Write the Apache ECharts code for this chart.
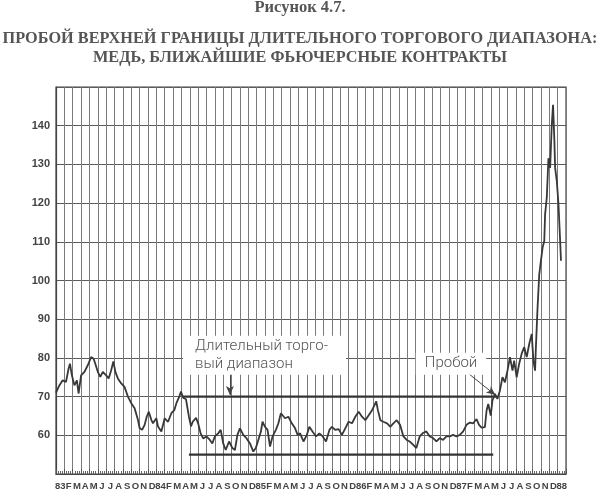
<!DOCTYPE html>
<html>
<head>
<meta charset="utf-8">
<script src="https://cdn.jsdelivr.net/npm/echarts@6/dist/echarts.min.js"></script>
<style>
html,body{margin:0;padding:0;background:#fff;}
#chart{width:600px;height:491px;}
</style>
</head>
<body>
<div id="chart"></div>
<script>
// Tick labels (months Jan 1983 .. Jan 1988)
const monthLabels = ['83','F','M','A','M','J','J','A','S','O','N','D',
  '84','F','M','A','M','J','J','A','S','O','N','D',
  '85','F','M','A','M','J','J','A','S','O','N','D',
  '86','F','M','A','M','J','J','A','S','O','N','D',
  '87','F','M','A','M','J','J','A','S','O','N','D','88'];

// Price series: time in months since Jan 1983, copper nearby futures (cents/lb)
const priceT = [0.0,0.4,0.8,1.2,1.5,1.67,1.9,2.2,2.5,2.7,3.0,3.4,3.8,4.2,4.5,4.7,5.0,5.3,5.6,6.0,6.3,6.6,6.86,7.1,7.4,7.8,8.2,8.6,9.0,9.4,9.8,10.0,10.3,10.6,10.85,11.1,11.4,11.6,12.0,12.2,12.6,13.0,13.4,13.8,14.15,14.4,14.75,14.95,15.2,15.55,15.9,
  16.15,16.35,16.75,17.0,17.3,17.6,18.0,18.4,18.7,19.0,19.4,19.7,20.0,20.3,20.7,21.1,21.4,21.7,22.0,22.4,22.8,23.2,23.6,23.9,24.2,24.5,24.7,25.0,25.3,25.6,25.9,26.3,26.6,26.9,27.1,27.4,27.8,28.2,28.6,28.9,29.2,29.6,30.0,30.3,30.7,31.1,31.5,31.9,32.3,32.7,33.0,33.4,33.8,
  34.2,34.6,35.0,35.4,35.8,36.2,36.6,37.0,37.4,37.8,38.1,38.3,38.5,38.8,39.15,39.6,40.0,40.35,40.75,41.15,41.55,41.95,42.3,42.7,43.1,43.5,43.9,44.3,44.7,45.1,45.5,45.9,46.3,46.7,47.1,47.5,47.9,48.3,48.7,49.1,49.5,49.9,50.3,50.6,50.9,51.3,
  51.5,51.7,52.0,52.2,52.5,52.8,53.1,53.4,53.7,54.0,54.3,54.6,54.8,55.1,55.4,55.7,56.0,56.3,56.6,56.9,57.1,57.3,57.4,57.6,57.8,58.0,58.2,58.4,58.5,58.7,58.9,59.1,59.3,59.45,59.6,59.7,59.9,60.1,60.3,60.4];
const priceV = [71.0,72.9,74.2,73.8,77.2,78.5,75.5,72.9,74.2,70.8,75.5,76.4,78.1,80.2,79.8,78.5,76.4,75.1,76.4,75.5,74.7,76.8,79.1,76.4,74.7,73.4,72.5,70.0,68.3,67.0,64.0,61.9,61.4,62.7,64.8,66.1,64.0,63.1,64.4,62.3,61.0,64.4,63.5,65.7,66.5,68.3,70.0,71.3,69.7,69.3,64.8,
  62.3,63.5,64.5,63.1,60.5,59.2,59.7,58.8,57.9,59.7,60.5,61.4,57.9,56.2,58.4,56.7,56.2,60.1,61.8,60.1,59.2,57.9,55.8,56.7,58.8,60.9,63.5,62.2,61.4,57.1,59.7,61.4,63.1,65.7,66.1,64.4,64.8,63.1,61.8,60.1,60.5,58.4,60.1,62.2,60.9,59.7,60.5,59.7,58.4,61.4,62.2,61.4,61.6,
  60.1,61.8,63.5,63.1,64.8,66.1,64.8,63.9,65.2,66.5,67.8,68.8,66.5,63.9,63.5,63.1,62.2,63.1,63.9,62.7,59.7,58.8,58.4,57.6,56.7,59.7,60.6,61.0,59.7,59.3,58.4,59.3,58.8,59.7,59.7,60.1,59.7,60.1,61.0,62.7,63.3,63.1,64.2,62.7,62.0,62.1,
  66.4,68.1,65.1,69.0,70.7,69.4,71.6,75.0,73.7,76.7,80.2,76.7,79.3,75.0,78.5,81.1,82.8,80.2,83.6,86.2,79.3,76.7,82.8,93.1,101.6,105.1,108.5,110.2,117.1,121.4,131.6,129.1,140.3,145.4,136.8,129.1,125.7,119.7,110.2,105.1];

// Trading range boundaries [start month, end month, level]
const rangeTop = [15.2, 52.8, 70];
const rangeBottom = [15.9, 52.3, 55];

// Annotations: [month, value] anchors
const noteRange = {text: 'Длительный торго-\nвый диапазон', at: [15.2, 80.7]};
const noteRangeArrow = [[20.8, 75.9], [20.8, 70.4]];
const noteBreak = {text: 'Пробой', at: [47.25, 78.5]};
const noteBreakArrow = [[49.2, 76.2], [52.55, 70.4]];

// Y axis
const yMin = 50, yMax = 150, yStep = 10;
const yLabelShown = [60,70,80,90,100,110,120,130,140];

const chart = echarts.init(document.getElementById('chart'), null, {renderer: 'canvas'});
const priceData = priceT.map((t, i) => [t, priceV[i]]);

const ink = '#383838';
const titleFont = {fontFamily: 'Liberation Serif', fontWeight: 'bold', fontSize: 16.3, color: '#555'};
const option = {
  backgroundColor: '#fff',
  animation: false,
  title: [
    {text: 'Рисунок 4.7.', left: 'center', top: -1, padding: 0,
     textStyle: {fontFamily: 'Liberation Serif', fontWeight: 'bold', fontSize: 16.5, color: '#555'}},
    {text: 'ПРОБОЙ ВЕРХНЕЙ ГРАНИЦЫ ДЛИТЕЛЬНОГО ТОРГОВОГО ДИАПАЗОНА:', left: 'center', top: 31, padding: 0,
     textStyle: titleFont},
    {text: 'МЕДЬ, БЛИЖАЙШИЕ ФЬЮЧЕРСНЫЕ КОНТРАКТЫ', left: 'center', top: 50, padding: 0,
     textStyle: titleFont}
  ],
  grid: {left: 56, top: 87, width: 510, height: 389, show: true, borderColor: '#444', borderWidth: 1.2, backgroundColor: 'transparent'},
  xAxis: [
    {type: 'category', data: monthLabels, boundaryGap: true, position: 'bottom',
     axisLine: {show: false}, axisTick: {show: false},
     axisLabel: {interval: 0, margin: 7, fontFamily: 'Liberation Sans', fontWeight: 'bold', fontSize: 9.5, color: '#444'},
     splitLine: {show: true, interval: 0, lineStyle: {color: '#7a7a7a', width: 1}}},
    {type: 'value', min: 0, max: 61, interval: 1, position: 'bottom',
     axisLine: {show: true, lineStyle: {color: '#444', width: 1.2}},
     axisTick: {show: true, inside: true, length: 5, lineStyle: {color: '#555'}},
     minorTick: {show: true, splitNumber: 4, length: 3, lineStyle: {color: '#666'}},
     axisLabel: {show: false}, splitLine: {show: false}}
  ],
  yAxis: {type: 'value', min: yMin, max: yMax, interval: yStep,
    axisLine: {show: true, lineStyle: {color: '#444', width: 1.2}}, axisTick: {show: false},
    axisLabel: {margin: 6, fontFamily: 'Liberation Sans', fontWeight: 'bold', fontSize: 11, color: '#444',
      formatter: v => yLabelShown.indexOf(v) >= 0 ? String(v) : ''},
    splitLine: {show: true, lineStyle: {color: '#5a5a5a', width: 1}}},
  series: [
    {type: 'line', name: 'Медь', xAxisIndex: 1, data: priceData, showSymbol: false, symbol: 'none',
     lineStyle: {color: ink, width: 1.8}, z: 5,
     markPoint: {
       symbol: 'circle', symbolSize: 0, silent: true,
       data: [
         {coord: noteRange.at, value: noteRange.text,
          label: {show: true, position: 'inside', formatter: noteRange.text, align: 'left',
            fontFamily: 'Roboto', fontWeight: 300, fontSize: 15, lineHeight: 18, color: '#555',
            backgroundColor: '#fff', padding: [2, 18, 1, 12]}},
         {coord: noteBreak.at, value: noteBreak.text,
          label: {show: true, position: 'inside', formatter: noteBreak.text,
            fontFamily: 'Roboto', fontWeight: 300, fontSize: 15, lineHeight: 18, color: '#555',
            backgroundColor: '#fff', padding: [2, 9, 2, 9]}}
       ]
     },
     markLine: {
       silent: true, symbol: ['none', 'arrow'], symbolSize: [6, 9], label: {show: false},
       lineStyle: {color: '#444', width: 1, type: 'solid'},
       data: [
         [{coord: noteRangeArrow[0]}, {coord: noteRangeArrow[1]}],
         [{coord: noteBreakArrow[0]}, {coord: noteBreakArrow[1]}]
       ]
     }},
    {type: 'line', name: 'top', xAxisIndex: 1, data: [[rangeTop[0], rangeTop[2]], [rangeTop[1], rangeTop[2]]],
     showSymbol: false, symbol: 'none', lineStyle: {color: '#333', width: 2.4}, z: 4},
    {type: 'line', name: 'bottom', xAxisIndex: 1, data: [[rangeBottom[0], rangeBottom[2]], [rangeBottom[1], rangeBottom[2]]],
     showSymbol: false, symbol: 'none', lineStyle: {color: '#333', width: 2.4}, z: 4}
  ]
};
chart.setOption(option);
</script>
</body>
</html>
